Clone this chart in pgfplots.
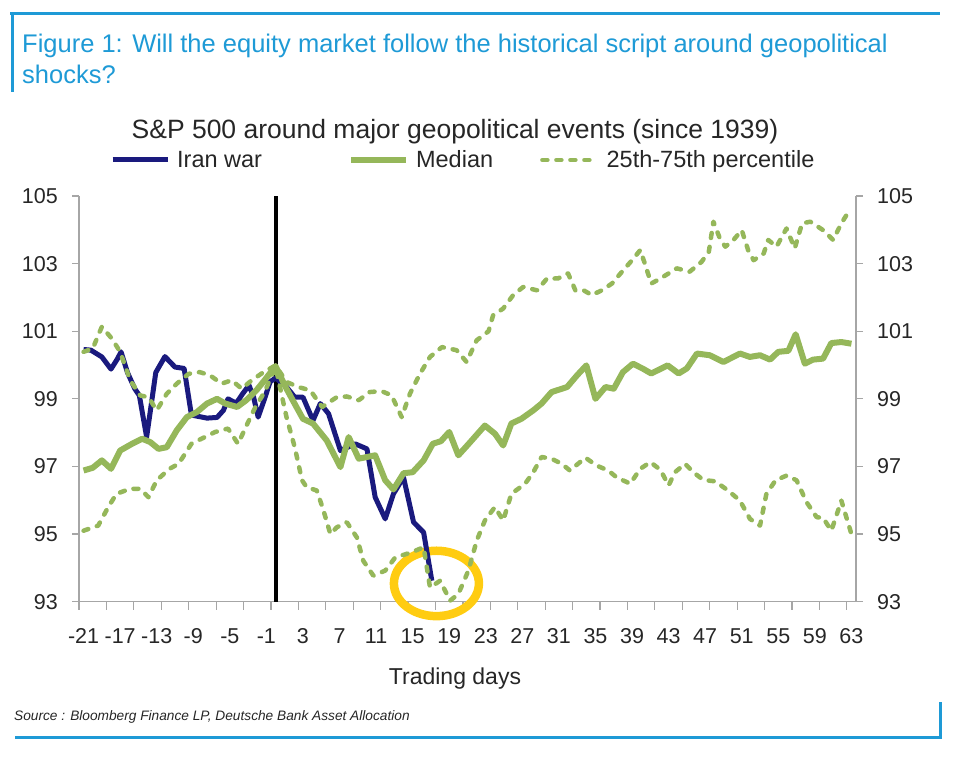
\documentclass[border=0pt]{standalone}
\usepackage{fontspec}
\setmainfont{Liberation Sans}
\usepackage{pgfplots}
\pgfplotsset{compat=1.18}

\definecolor{navy}{HTML}{1A1A7E}
\definecolor{dbgreen}{HTML}{95B75A}
\definecolor{dbblue}{HTML}{1E9AD6}
\definecolor{axisgray}{HTML}{A6A6A6}
\definecolor{txt}{HTML}{262626}
\definecolor{hl}{HTML}{FFCC11}

\pgfplotsset{
  ddays/.style={
    scale only axis, width=777pt, height=405.7pt,
    at={(79pt,163.3pt)}, anchor=south west,
    xmin=-21.5, xmax=63.5, ymin=93, ymax=105,
    ytick={93,95,...,105},
    /pgf/number format/assume math mode=true,
    axis line style={draw=axisgray, line width=1.3pt},
    tick align=outside,
    major tick length=7pt,
    ytick style={draw=axisgray, line width=1.2pt},
    ticklabel style={font=\fontsize{21.5pt}{24pt}\selectfont, text=txt, inner sep=0pt},
  },
}

\begin{document}
\begin{tikzpicture}
\path[use as bounding box] (0pt,0pt) rectangle (959pt,765pt);

% frame and headings
\draw[dbblue, line width=3pt] (10pt,751pt) -- (940pt,751pt);
\draw[dbblue, line width=3pt] (12pt,751pt) -- (12pt,673pt);
\draw[dbblue, line width=3pt] (15pt,27pt) -- (940pt,27pt) -- (940pt,63pt);
\node[anchor=base west, inner sep=0pt, text=dbblue, font=\fontsize{25.5pt}{30pt}\selectfont]
  at (22pt,712pt) {Figure 1: Will the equity market follow the historical script around geopolitical};
\node[anchor=base west, inner sep=0pt, text=dbblue, font=\fontsize{25.5pt}{30pt}\selectfont]
  at (22pt,681pt) {shocks?};
\node[anchor=base, inner sep=0pt, text=txt, font=\fontsize{26.5pt}{30pt}\selectfont]
  at (455pt,626pt) {S\&P 500 around major geopolitical events (since 1939)};
\node[anchor=base, inner sep=0pt, text=txt, font=\fontsize{23pt}{26pt}\selectfont]
  at (455pt,80pt) {Trading days};
\node[anchor=base west, inner sep=0pt, text=txt, font=\fontsize{13.7pt}{16pt}\selectfont\itshape]
  at (14pt,44pt) {Source : Bloomberg Finance LP, Deutsche Bank Asset Allocation};

\begin{axis}[ddays,
  clip=false,
  axis x line*=bottom, axis y line*=left,
  xtick={-21,-17,...,63},
  xticklabels={-21,-17,-13,-9,-5,-1,3,7,11,15,19,23,27,31,35,39,43,47,51,55,59,63},
  major x tick style={draw=none},
  minor xtick={-21.5,-18.5,...,63},
  minor x tick style={draw=axisgray, line width=1.2pt},
  minor tick length=8pt,
  xticklabel style={anchor=north, yshift=-20pt},
  yticklabel style={anchor=east, xshift=-14pt},
  legend style={at={(0.0399,1.0888)}, anchor=west, draw=none, fill=none,
    inner sep=0pt, legend columns=3,
    font=\fontsize{23.5pt}{26pt}\selectfont, text=txt,
    /tikz/every odd column/.style={column sep=5pt},
    /tikz/column 2/.style={column sep=84pt},
    /tikz/column 4/.style={column sep=45pt}},
  legend image code/.code={\draw[#1] (0pt,0pt) -- (55pt,0pt);},
  every axis plot/.append style={line join=round},
]
\draw[hl, line width=8.5pt] (axis cs:17.6,93.54) ellipse [x radius=42.5pt, y radius=32.7pt];

\addplot[black, line width=4pt, forget plot] coordinates {(0,93) (0,105)};

% Iran war
\addplot[navy, line width=5pt] coordinates {
(-21,100.46) (-20.2,100.44) (-19,100.24) (-18,99.88) (-17.3,100.18) (-16.9,100.39)
(-16.2,99.78) (-15.4,99.3) (-14.9,99.1) (-14.1,97.87) (-13.1,99.78) (-12.1,100.25)
(-11,99.94) (-10,99.9) (-9.2,98.52) (-7.5,98.43) (-6.4,98.45) (-5.7,98.66)
(-5.2,99.0) (-4.3,98.87) (-3.6,99.15) (-2.9,99.4) (-2.4,99.05) (-1.9,98.46)
(-1.2,99.0) (-0.6,99.5) (0,99.62) (1.2,99.35) (2.1,99.05) (3,99.05)
(4.1,98.36) (4.9,98.86) (5.8,98.56) (7.1,97.47) (8.7,97.67) (10,97.52)
(10.9,96.09) (12,95.45) (12.9,96.19) (14,96.68) (15.1,95.35) (16.2,95.05) (17.1,93.62)
};
\addlegendentry{Iran war}

% Median
\addplot[dbgreen, line width=6pt] coordinates {
(-21,96.88) (-20,96.96) (-19,97.18) (-18,96.93) (-17,97.47) (-15.7,97.67)
(-14.6,97.82) (-13.7,97.72) (-12.8,97.52) (-11.9,97.57) (-10.8,98.07) (-9.7,98.46)
(-8.6,98.61) (-7.5,98.86) (-6.4,99.0) (-5.5,98.86) (-4.2,98.76) (-3.2,98.96)
(-2.1,99.25) (-1.2,99.55) (0,99.97) (1.1,99.35) (2,98.9) (3,98.41)
(4.1,98.27) (5.6,97.77) (7.1,96.98) (8,97.87) (9.1,97.23) (10.9,97.33)
(12,96.59) (12.9,96.32) (14,96.8) (15,96.83) (16.2,97.18) (17.2,97.67)
(18.1,97.75) (19,98.02) (20,97.33) (21.3,97.72) (22.9,98.21) (24,97.97)
(24.9,97.62) (25.8,98.27) (26.9,98.41) (28.2,98.66) (29.1,98.86) (30.2,99.2)
(31.9,99.35) (33,99.7) (34,99.99) (35,99.0) (36.1,99.35) (37,99.3)
(38,99.79) (39.1,100.04) (40.2,99.89) (41.1,99.75) (42.9,99.99) (44.1,99.75)
(45,99.9) (46.1,100.34) (47.5,100.29) (49,100.09) (50.8,100.34) (51.9,100.24)
(53,100.29) (54.1,100.16) (55,100.39) (56.1,100.42) (56.9,100.91) (57.9,100.04)
(58.8,100.16) (59.9,100.19) (60.8,100.65) (61.9,100.68) (63,100.63)
};
\addlegendentry{Median}

% 75th percentile
\addplot[dbgreen, line width=4.5pt, line cap=round, dash pattern=on 5pt off 9pt] coordinates {
(-21,100.39) (-20,100.49) (-19,101.13) (-17.9,100.78) (-17,100.39) (-15.9,99.55)
(-14.8,99.1) (-13.9,99.05) (-13,98.66) (-11.9,99.15) (-10.8,99.45) (-9.5,99.74)
(-8.3,99.79) (-7.2,99.7) (-5.9,99.45) (-4.8,99.55) (-3.7,99.3) (-2.6,99.55)
(-1.3,99.79) (0,99.99) (1.2,99.5) (2.5,99.35) (3.8,99.25) (5.1,98.76)
(6.7,99.05) (7.8,99.07) (9.1,98.96) (10.3,99.2) (11.6,99.23) (12.7,99.1)
(13.8,98.46) (14.7,99.15) (15.8,99.74) (16.9,100.24) (18.2,100.53) (19.8,100.44)
(20.9,100.09) (22,100.73) (23.3,101.0) (23.8,101.47) (24.9,101.67) (26,102.07)
(27.1,102.31) (28.6,102.21) (29.7,102.56) (30.9,102.56) (32,102.71) (32.8,102.21)
(33.7,102.21) (34.6,102.07) (35.7,102.21) (36.8,102.41) (37.9,102.76) (39,103.1)
(39.9,103.4) (40.4,103.0) (41.1,102.41) (42.1,102.56) (43.9,102.86) (45.3,102.76)
(46.6,103.05) (47.4,103.35) (47.9,104.24) (48.6,103.75) (49.2,103.5) (50.1,103.7)
(51,103.99) (51.7,103.4) (52.3,103.1) (53.4,103.3) (53.9,103.7) (54.8,103.5)
(55.9,104.04) (56.8,103.45) (57.6,104.19) (58.5,104.24) (59.9,103.99) (61,103.7)
(61.9,104.19) (62.9,104.63)
};
\addlegendentry{25th-75th percentile}

% 25th percentile
\addplot[dbgreen, line width=4.5pt, line cap=round, dash pattern=on 5pt off 9pt, forget plot] coordinates {
(-21,95.1) (-19.4,95.25) (-18.3,95.8) (-17.4,96.19) (-15.9,96.34) (-14.8,96.34)
(-13.9,96.09) (-13,96.59) (-11.6,96.93) (-10.6,97.08) (-9.2,97.67) (-8.1,97.82)
(-6.6,98.02) (-5.2,98.12) (-4.1,97.67) (-3,98.31) (-2.2,98.76) (-1.2,99.2)
(0,99.95) (1.2,98.46) (2.1,97.57) (2.9,96.59) (3.4,96.39) (4.5,96.29)
(5.2,95.74) (6,95.0) (6.7,95.2) (7.8,95.35) (8.9,94.9) (9.6,94.21)
(10.7,93.77) (12,93.92) (13.1,94.31) (14.3,94.41) (15.3,94.51) (16.2,94.61)
(16.9,93.42) (18,93.62) (19.1,93.03) (20,93.23) (21.1,93.92) (22,94.8)
(22.9,95.4) (24,95.8) (24.9,95.4) (25.8,96.19) (27.3,96.49) (28.2,96.83)
(29.1,97.28) (30.2,97.23) (31.3,97.08) (32.2,96.88) (33.9,97.26) (35.1,97.03)
(36.4,96.88) (37.3,96.68) (38.8,96.49) (39.9,96.93) (41,97.13) (42.1,96.9)
(43,96.44) (43.7,96.83) (44.8,97.08) (45.7,96.83) (46.8,96.6) (48.1,96.56)
(49.5,96.29) (50.8,95.99) (51.9,95.45) (53,95.25) (53.7,96.19) (54.7,96.59)
(55.9,96.73) (57,96.59) (58.1,95.94) (59.2,95.5) (59.9,95.48) (60.8,95.1)
(61.9,95.99) (63,95.0)
};
\end{axis}

\begin{axis}[ddays,
  axis x line=none, axis y line*=right,
  yticklabel style={anchor=west, xshift=14pt},
]
\end{axis}
\end{tikzpicture}
\end{document}
